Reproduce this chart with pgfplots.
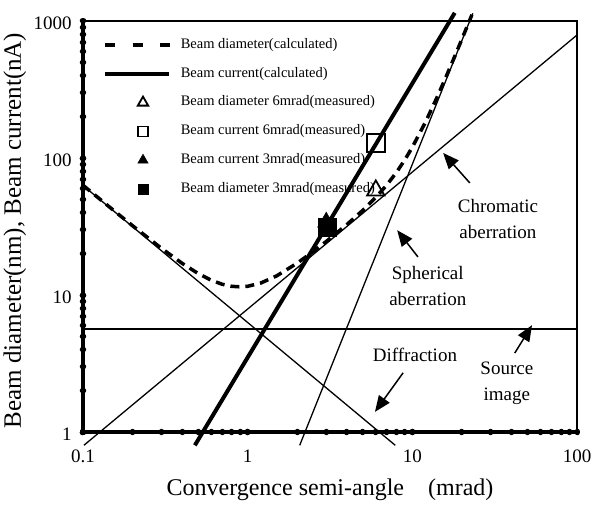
\documentclass[border=0pt]{standalone}
\usepackage{fontspec}
\setmainfont{Liberation Serif}
\usepackage{pgfplots}
\pgfplotsset{compat=1.18}
\usetikzlibrary{arrows.meta}
\pgfplotsset{
  legdash/.style={legend image code/.code={\draw[##1, dash pattern=on 10bp off 17.5bp] (0bp,0bp) -- (65bp,0bp);}},
  legtri/.style={legend image code/.code={\draw[##1, mark size=6bp] plot coordinates {(38bp,0bp)};}},
  legsq/.style={legend image code/.code={\draw[##1, mark size=5bp] plot coordinates {(38bp,0bp)};}},
}

\begin{document}
\begin{tikzpicture}
\begin{axis}[
  scale only axis, width=494bp, height=411bp,
  xmode=log, ymode=log, xmin=0.1, xmax=100, ymin=1, ymax=1000,
  clip=false,
  xtick={0.1,1,10,100}, xticklabels={0.1,1,10,100},
  ytick={1,10,100,1000}, yticklabels={1,10,100,1000},
  tick pos=left, tick align=center,
  major tick length=1.5bp, minor tick length=1.5bp,
  every tick/.style={black, line width=5bp, line cap=round},
  axis line style={line width=1.2bp},
  ticklabel style={font=\fontsize{19bp}{22bp}\selectfont},
  xticklabel style={yshift=-14bp},
  yticklabel style={xshift=-7bp, yshift=-2bp},
  xlabel={Convergence semi-angle\quad(mrad)},
  ylabel={Beam diameter(nm), Beam current(nA)},
  xlabel style={at={(axis description cs:0.5,-0.141)}, anchor=center, font=\fontsize{24bp}{28bp}\selectfont},
  ylabel style={at={(axis description cs:-0.138,0.49)}, anchor=center, font=\fontsize{25bp}{28bp}\selectfont},
  legend style={draw=none, fill=none, at={(0.0405,0.958)}, anchor=north west,
    inner sep=0pt, outer sep=0pt, font=\fontsize{14.5bp}{16bp}\selectfont,
    row sep=15.3bp, column sep=9bp,
    nodes={inner sep=0pt, text height=10bp, text depth=3.5bp}},
  legend cell align=left,
  legend image code/.code={\draw[mark repeat=2,mark phase=2,#1] plot coordinates {(0bp,0bp) (32bp,0bp) (64bp,0bp)};},
]
% thin component lines
\addplot[black, line width=1.3bp, forget plot] coordinates {(0.1,63) (7.875,0.8)}; % diffraction
\addplot[black, line width=1.3bp, forget plot] coordinates {(0.1013,0.8) (100,790)}; % chromatic
\addplot[black, line width=1.3bp, forget plot] coordinates {(2.07,0.8) (23.3,1138)}; % spherical
\addplot[black, line width=1.3bp, forget plot] coordinates {(0.1,5.65) (100,5.65)}; % source image

\addplot[black, line width=3.5bp, dash pattern=on 9bp off 6bp, legdash]
  coordinates {(0.1,63.26) (0.15,42.39) (0.2,32.04) (0.3,21.88) (0.4,17.03) (0.5,14.36)
  (0.6,12.83) (0.7,11.98) (0.8,11.57) (0.9,11.47) (1,11.58) (1.2,12.22) (1.5,13.79)
  (2,17.09) (2.5,20.74) (3,24.57) (4,32.65) (5,41.48) (6,51.55) (7,63.59) (8,78.42)
  (9,96.91) (10,119.9) (12,182.2) (14,270.7) (16,389.7) (18,543.8) (20,737.2)
  (22,973.9) (23,1110)};
\addlegendentry{Beam diameter(calculated)}

\addplot[black, line width=4bp] coordinates {(0.478,0.8) (18.1,1147)};
\addlegendentry{Beam current(calculated)}

\addplot[black, only marks, mark=triangle, mark size=10bp, mark options={fill=white, line width=1.8bp}, legtri]
  coordinates {(6,58)};
\addlegendentry{Beam diameter 6mrad(measured)}

\addplot[black, only marks, mark=square, mark size=9bp, mark options={fill=white, line width=1.8bp}, legsq]
  coordinates {(6,129)};
\addlegendentry{Beam current 6mrad(measured)}

\addplot[black, only marks, mark=triangle*, mark size=10bp, mark options={fill=black, line width=0.5bp}, legtri]
  coordinates {(3,34)};
\addlegendentry{Beam current 3mrad(measured)}

\addplot[black, only marks, mark=square*, mark size=9bp, mark options={fill=black, line width=0.5bp}, legsq]
  coordinates {(3.03,31)};
\addlegendentry{Beam diameter 3mrad(measured)}

% thick left and bottom axis lines
\draw[line width=3.5bp] (rel axis cs:0,1) -- (rel axis cs:0,0) -- (rel axis cs:1,0);

% annotations
\begin{scope}[every node/.style={font=\fontsize{19bp}{26bp}\selectfont, align=center}]
\node at (rel axis cs:0.840,0.518) {Chromatic\\aberration};
\node at (rel axis cs:0.698,0.355) {Spherical\\aberration};
\node at (rel axis cs:0.672,0.187) {Diffraction};
\node at (rel axis cs:0.858,0.119) {Source\\image};
\end{scope}
\begin{scope}[line width=1.5bp, -{Triangle[length=16bp, width=13bp]}]
\draw (rel axis cs:0.783,0.606) -- (rel axis cs:0.729,0.679);
\draw (rel axis cs:0.678,0.426) -- (rel axis cs:0.636,0.491);
\draw (rel axis cs:0.648,0.144) -- (rel axis cs:0.591,0.049);
\draw (rel axis cs:0.874,0.192) -- (rel axis cs:0.909,0.260);
\end{scope}
\end{axis}
\pgfresetboundingbox
\useasboundingbox ([xshift=-83bp,yshift=-82bp]current axis.south west) rectangle ([xshift=18bp,yshift=21bp]current axis.north east);
\end{tikzpicture}
\end{document}
